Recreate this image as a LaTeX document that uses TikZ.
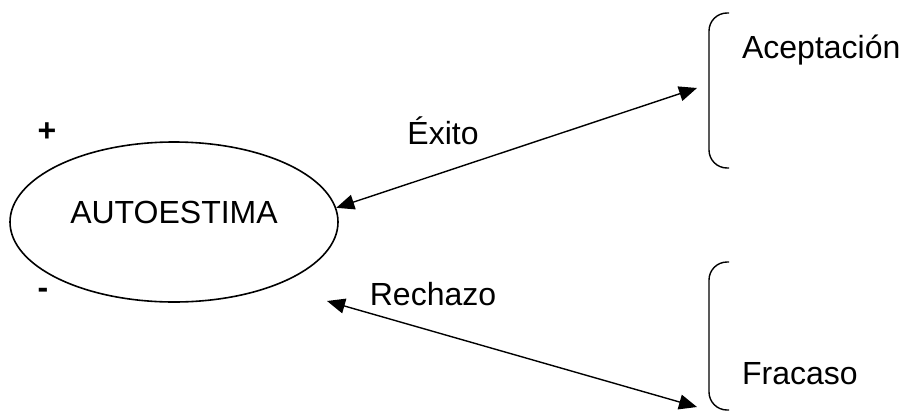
\documentclass[tikz,border=0pt]{standalone}
\usepackage{fontspec}
\setmainfont{Liberation Sans}
\usetikzlibrary{shapes.geometric, arrows.meta}

\begin{document}
\begin{tikzpicture}[x=0.5pt, y=-0.5pt,
		every node/.style={font=\fontsize{16}{19}\selectfont},
		link/.style={{Triangle[length=9pt, width=7.5pt]}-{Triangle[length=9pt, width=7.5pt]}, line width=0.7pt},
		brace/.style={line width=0.7pt, rounded corners=9pt}]
			\useasboundingbox (0,0) rectangle (903,412);
			
			\node (auto) [ellipse, draw, line width=0.8pt, inner sep=0pt, minimum width=164pt, minimum height=80pt,
				label={[yshift=5pt]center:AUTOESTIMA}] at (174,222) {};
			
			\node (plus) at (47,132) {\bfseries +};
			\node (minus) at (43,293) {\bfseries -};
			
			\coordinate (accept) at (697,88);
			\coordinate (fail) at (697,407);
			\coordinate (low) at (327,301);
			
			\draw [brace] (729,13) -- (709,13) -- (709,168) -- (729,168);
			\draw [brace] (729,262) -- (709,262) -- (709,410) -- (729,410);
			
			\node (aceptacion) [anchor=west] at (735,50) {Aceptación};
			\node (fracaso) [anchor=west] at (735,374) {Fracaso};
			
			\draw [link] (auto.5) -- (accept);
			\draw [link] (low) -- (fail);
			\node (exito) at (443,131) {Éxito};
			\node (rechazo) at (433,294) {Rechazo};
			
		\end{tikzpicture}
\end{document}
